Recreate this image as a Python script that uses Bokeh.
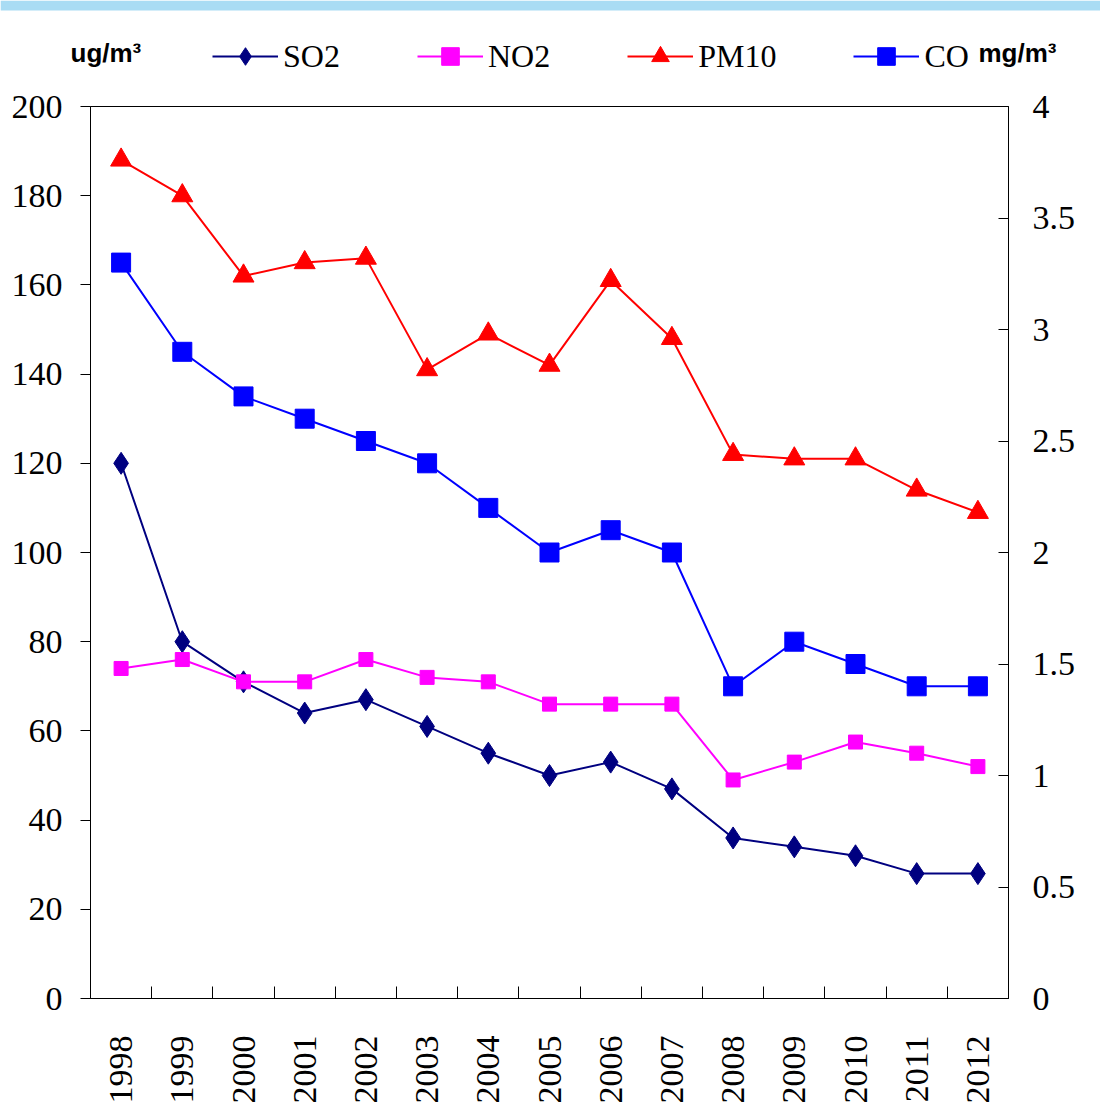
import math
from bokeh.plotting import figure
from bokeh.layouts import column
from bokeh.models import (Range1d, LinearAxis, FixedTicker, Legend, LegendItem,
                          Label, NumeralTickFormatter, BoxAnnotation)
from bokeh.embed import file_html
from bokeh.resources import INLINE

# ---- data ----
years = ["1998", "1999", "2000", "2001", "2002", "2003", "2004", "2005",
         "2006", "2007", "2008", "2009", "2010", "2011", "2012"]
so2 = [120, 80, 71, 64, 67, 61, 55, 50, 53, 47, 36, 34, 32, 28, 28]
no2 = [74, 76, 71, 71, 76, 72, 71, 66, 66, 66, 49, 53, 57.5, 55, 52]
pm10 = [188, 180, 162, 165, 166, 141, 149, 142, 161, 148, 122, 121, 121, 114, 109]
co = [3.3, 2.9, 2.7, 2.6, 2.5, 2.4, 2.2, 2.0, 2.1, 2.0, 1.4, 1.6, 1.5, 1.4, 1.4]
left_ticks = [0, 20, 40, 60, 80, 100, 120, 140, 160, 180, 200]
right_ticks = [0, 0.5, 1, 1.5, 2, 2.5, 3, 3.5, 4]
series_names = ["SO2", "NO2", "PM10", "CO"]
left_unit = "ug/m³"
right_unit = "mg/m³"

xs = list(range(len(years)))
FONT = "Liberation Serif"
W = 1100
HEAD_H = 80
MAIN_H = 1032

colors = ["#000080", "#FF00FF", "#FF0000", "#0000FF"]
markers = ["diamond", "square", "triangle", "square"]
msizes = [22, 14, 21, 19]
values = [so2, no2, pm10, co]

# ---- main chart ----
p = figure(width=W, height=MAIN_H, output_backend="svg", toolbar_location=None,
           x_range=Range1d(-0.5, len(years) - 0.5), y_range=Range1d(0, 200),
           min_border_left=90, min_border_right=W - 90 - 918, min_border_top=26,
           min_border_bottom=MAIN_H - 26 - 892)
p.extra_y_ranges = {"co": Range1d(0, 4)}
p.xgrid.visible = False
p.ygrid.visible = False
p.outline_line_color = "black"
p.outline_line_alpha = 1
p.background_fill_color = "white"
p.border_fill_color = "white"

xa = p.xaxis[0]
xa.ticker = FixedTicker(ticks=xs, minor_ticks=[i + 0.5 for i in xs[:-1]])
xa.major_label_overrides = {i: y for i, y in zip(xs, years)}
xa.major_tick_in = 0
xa.major_tick_out = 0
xa.minor_tick_in = 12
xa.minor_tick_out = 0
xa.minor_tick_line_color = "black"
xa.major_label_orientation = math.pi / 2
xa.major_label_standoff = 37
xa.major_label_text_font = FONT
xa.major_label_text_font_size = "34px"
xa.major_label_text_color = "black"
xa.axis_line_color = "black"

ya = p.yaxis[0]
ya.ticker = FixedTicker(ticks=left_ticks)
ya.major_tick_out = 10
ya.major_tick_in = 0
ya.minor_tick_line_color = None
ya.major_label_standoff = 18
ya.major_label_text_font = FONT
ya.major_label_text_font_size = "34px"
ya.major_label_text_color = "black"
ya.axis_line_color = "black"
ya.major_tick_line_color = "black"

ra = LinearAxis(y_range_name="co", ticker=FixedTicker(ticks=right_ticks),
                formatter=NumeralTickFormatter(format="0.[0]"))
ra.major_tick_in = 10
ra.major_tick_out = 0
ra.minor_tick_line_color = None
ra.major_label_standoff = 24
ra.major_label_text_font = FONT
ra.major_label_text_font_size = "34px"
ra.major_label_text_color = "black"
ra.axis_line_color = "black"
ra.major_tick_line_color = "black"
p.add_layout(ra, "right")

for vals, c, mk, ms, name in zip(values, colors, markers, msizes, series_names):
    kw = {"y_range_name": "co"} if name == "CO" else {}
    p.line(xs, vals, color=c, line_width=2, **kw)
    p.scatter(xs, vals, marker=mk, size=ms, color=c, **kw)

# ---- header with legend and units ----
h = figure(width=W, height=HEAD_H, output_backend="svg", toolbar_location=None,
           x_range=Range1d(0, W), y_range=Range1d(0, HEAD_H),
           x_axis_type=None, y_axis_type=None, min_border=0)
try:
    h.frame_align = False
except Exception:
    pass
h.xgrid.visible = False
h.ygrid.visible = False
h.outline_line_color = None
h.background_fill_color = "white"
h.border_fill_color = "white"

# light-blue slide band at the top edge
h.add_layout(BoxAnnotation(top=HEAD_H, bottom=HEAD_H - 10, fill_color="#a9dcf4",
                           fill_alpha=1, line_color=None))

items = []
for vals, c, mk, ms, name in zip(values, colors, markers, msizes, series_names):
    # hidden copies of the series; they only supply the legend swatches
    lr = h.line(xs, vals, color=c, line_width=2, visible=False)
    mr = h.scatter(xs, vals, marker=mk, size=ms, color=c, visible=False)
    items.append(LegendItem(label=name, renderers=[lr, mr]))

legend = Legend(items=items, orientation="horizontal", location=(212, 2),
                glyph_width=66, glyph_height=44, label_height=44,
                label_standoff=5, spacing=77, padding=0, margin=0,
                border_line_color=None, background_fill_alpha=0,
                inactive_fill_alpha=0,
                label_text_font=FONT, label_text_font_size="32px",
                label_text_color="black")
h.add_layout(legend)

for txt, xpos in ((left_unit, 70), (right_unit, 978)):
    h.add_layout(Label(x=xpos, y=HEAD_H - 52, text=txt,
                       text_font="Liberation Sans", text_font_style="bold",
                       text_font_size="26px", text_baseline="middle",
                       text_align="left", text_color="black"))

layout = column(h, p, spacing=0)
open("out.html", "w").write(file_html(layout, INLINE))
